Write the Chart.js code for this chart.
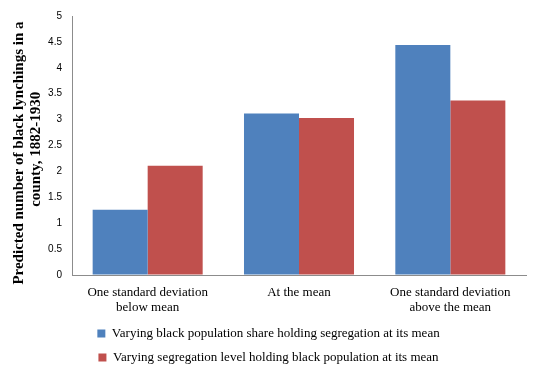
<!DOCTYPE html>
<html>
<head>
<meta charset="utf-8">
<script src="https://cdn.jsdelivr.net/npm/chart.js@4/dist/chart.umd.min.js"></script>
<style>
  html, body { margin: 0; padding: 0; background: #fff; }
  #wrap { width: 535px; height: 374px; }
</style>
</head>
<body>
<div id="wrap"><canvas id="chart"></canvas></div>
<script>
// values
const categories = [
    ['One standard deviation', 'below mean'],
    'At the mean',
    ['One standard deviation', 'above the mean']
];
const shareSeries = [1.26, 3.12, 4.44];
const segregationSeries = [2.11, 3.03, 3.37];
const yTicks = [0, 0.5, 1, 1.5, 2, 2.5, 3, 3.5, 4, 4.5, 5];

const serif = 'Times New Roman, Liberation Serif, serif';

const ctx = document.getElementById('chart').getContext('2d');
new Chart(ctx, {
    type: 'bar',
    data: {
        labels: categories,
        datasets: [{
            label: 'Varying black population share holding segregation at its mean',
            data: shareSeries,
            backgroundColor: '#4f81bd'
        }, {
            label: 'Varying segregation level holding black population at its mean',
            data: segregationSeries,
            backgroundColor: '#c0504d'
        }]
    },
    options: {
        responsive: true,
        maintainAspectRatio: false,
        animation: false,
        datasets: {
            bar: { categoryPercentage: 0.727, barPercentage: 1.0 }
        },
        layout: { padding: { left: 11, right: 9, top: 2, bottom: 0 } },
        plugins: {
            legend: {
                position: 'bottom',
                labels: {
                    font: { family: serif, size: 13 },
                    color: '#000',
                    boxWidth: 8,
                    boxHeight: 8,
                    padding: 11
                }
            },
            tooltip: { enabled: false }
        },
        scales: {
            x: {
                grid: { display: false },
                border: { color: '#8c8c8c' },
                afterFit: scale => { scale.height -= 1; },
                ticks: {
                    font: { family: serif, size: 13, lineHeight: 1.15 },
                    color: '#000',
                    maxRotation: 0,
                    padding: 2
                }
            },
            y: {
                min: 0,
                max: 5,
                afterBuildTicks: axis => {
                    axis.ticks = yTicks.map(v => ({ value: v }));
                },
                afterFit: scale => { scale.width = 61; },
                grid: { drawOnChartArea: false, drawTicks: false },
                border: { color: '#8c8c8c' },
                ticks: {
                    font: { family: 'Liberation Sans, Arial, sans-serif', size: 10 },
                    color: '#000',
                    padding: 10,
                    callback: v => String(v)
                },
                title: {
                    display: true,
                    // trailing spaces nudge the lines down a little, like the original
                    text: ['Predicted number of black lynchings in a    ', 'county, 1882-1930  '],
                    font: { family: serif, size: 15, weight: 'bold', lineHeight: 1.1 },
                    color: '#000',
                    padding: { top: 0, bottom: 2 }
                }
            }
        }
    }
});
</script>
</body>
</html>
